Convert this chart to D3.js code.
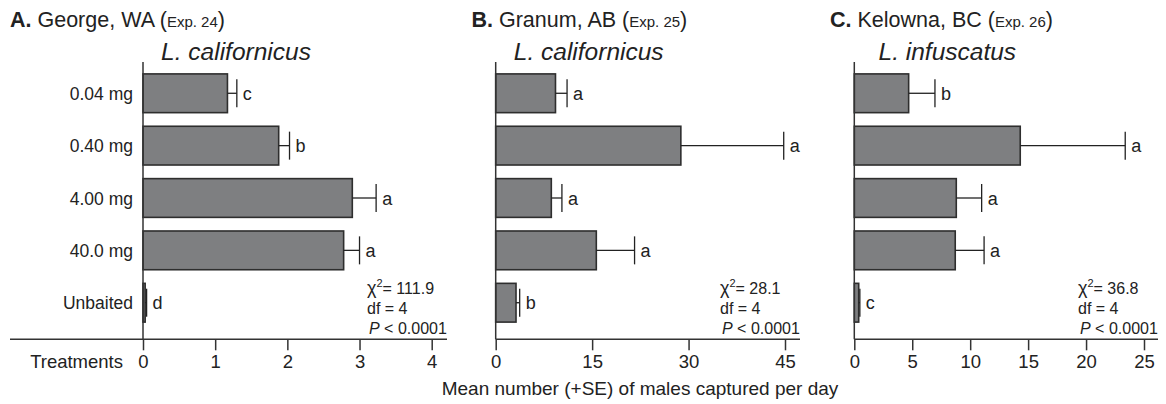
<!DOCTYPE html>
<html>
<head>
<meta charset="utf-8">
<script src="https://cdn.jsdelivr.net/npm/d3@7"></script>
<style>
  body { margin: 0; background: #fff; }
  svg text { font-family: "Liberation Sans", Arial, sans-serif; fill: #222; }
</style>
</head>
<body>
<div id="chart"></div>
<script>
// treatments (same for every panel)
var treatments = ["0.04 mg", "0.40 mg", "4.00 mg", "40.0 mg", "Unbaited"]

// A. George, WA
var meansA = [1.17, 1.88, 2.90, 2.78, 0.03]
var seA = [0.13, 0.15, 0.33, 0.22, 0.02]
var lettersA = ["c", "b", "a", "a", "d"]
var ticksA = [0, 1, 2, 3, 4]

// B. Granum, AB
var meansB = [9.3, 28.8, 8.65, 15.65, 3.16]
var seB = [1.8, 16.0, 1.65, 5.95, 0.57]
var lettersB = ["a", "a", "a", "a", "b"]
var ticksB = [0, 15, 30, 45]

// C. Kelowna, BC
var meansC = [4.69, 14.32, 8.8, 8.71, 0.38]
var seC = [2.27, 9.06, 2.19, 2.49, 0.1]
var lettersC = ["b", "a", "a", "a", "c"]
var ticksC = [0, 5, 10, 15, 20, 25]

var chiSq = ["111.9", "28.1", "36.8"]

var width = 1166
    height = 404

var svg = d3.select("#chart")
  .append("svg")
    .attr("width", width)
    .attr("height", height)

// panel setup: where the x axis sits and how far the baseline runs
var panels = [
  {letter: "A.", place: "George, WA ", exp: "Exp. 24", species: "L. californicus",
   means: meansA, se: seA, letters: lettersA, ticks: ticksA, chi: chiSq[0],
   x0: 143, x1: 431.7, lineStart: 10, lineEnd: 447, titleX: 10},
  {letter: "B.", place: "Granum, AB ", exp: "Exp. 25", species: "L. californicus",
   means: meansB, se: seB, letters: lettersB, ticks: ticksB, chi: chiSq[1],
   x0: 495.7, x1: 785, lineStart: 495.7, lineEnd: 800, titleX: 471.5},
  {letter: "C.", place: "Kelowna, BC ", exp: "Exp. 26", species: "L. infuscatus",
   means: meansC, se: seC, letters: lettersC, ticks: ticksC, chi: chiSq[2],
   x0: 854.3, x1: 1144, lineStart: 854.3, lineEnd: 1158, titleX: 830}
]

var axisY = 339.3

var y = d3.scaleBand()
  .domain(treatments)
  .range([67.1, 328.9])
  .paddingInner(0.26)
  .paddingOuter(0.13)

panels.forEach(function(p) {
  var x = d3.scaleLinear()
    .domain([0, p.ticks[p.ticks.length - 1]])
    .range([p.x0, p.x1])

  var g = svg.append("g")

  // panel title
  var t = g.append("text")
    .attr("x", p.titleX)
    .attr("y", 26.5)
    .style("font-size", "21.5px")
  t.append("tspan").style("font-weight", "bold").text(p.letter)
  t.append("tspan").text(" " + p.place + "(")
  t.append("tspan").style("font-size", "15px").text(p.exp)
  t.append("tspan").text(")")

  // species
  g.append("text")
    .attr("x", p.x0 + 93)
    .attr("y", 59.5)
    .attr("text-anchor", "middle")
    .style("font-size", "24.5px")
    .style("font-style", "italic")
    .text(p.species)

  var rows = treatments.map(function(d, i) {
    return {cat: d, mean: p.means[i], se: p.se[i], letter: p.letters[i]}
  })

  // bars
  g.selectAll("bars")
    .data(rows)
    .enter()
    .append("rect")
      .attr("x", x(0))
      .attr("y", function(d) { return y(d.cat) })
      .attr("width", function(d) { return x(d.mean) - x(0) })
      .attr("height", y.bandwidth())
      .attr("fill", "#7e7f81")
      .attr("stroke", "#2e2e2e")
      .attr("stroke-width", 1.6)

  // error bars (+SE only)
  var mid = function(d) { return y(d.cat) + y.bandwidth() / 2 }
  g.selectAll("errline")
    .data(rows)
    .enter()
    .append("line")
      .attr("x1", function(d) { return x(d.mean) })
      .attr("x2", function(d) { return x(d.mean + d.se) })
      .attr("y1", mid)
      .attr("y2", mid)
      .attr("stroke", "#222")
      .attr("stroke-width", 1.3)
  g.selectAll("errcap")
    .data(rows)
    .enter()
    .append("line")
      .attr("x1", function(d) { return x(d.mean + d.se) })
      .attr("x2", function(d) { return x(d.mean + d.se) })
      .attr("y1", function(d) { return mid(d) - 14 })
      .attr("y2", function(d) { return mid(d) + 14 })
      .attr("stroke", "#222")
      .attr("stroke-width", 1.3)

  // significance letters
  g.selectAll("letters")
    .data(rows)
    .enter()
    .append("text")
      .attr("x", function(d) { return x(d.mean + d.se) + 6 })
      .attr("y", function(d) { return mid(d) + 6.5 })
      .style("font-size", "18px")
      .text(function(d) { return d.letter })

  // y axis line
  g.append("line")
    .attr("x1", p.x0).attr("x2", p.x0)
    .attr("y1", 62).attr("y2", axisY)
    .attr("stroke", "#333").attr("stroke-width", 1.5)

  // x axis baseline
  g.append("line")
    .attr("x1", p.lineStart).attr("x2", p.lineEnd)
    .attr("y1", axisY).attr("y2", axisY)
    .attr("stroke", "#333").attr("stroke-width", 1.5)

  var ax = g.append("g")
    .attr("transform", "translate(0," + axisY + ")")
    .call(d3.axisBottom(x).tickValues(p.ticks).tickFormat(d3.format("d"))
      .tickSize(11).tickPadding(5).tickSizeOuter(0))
  ax.select(".domain").remove()
  ax.selectAll(".tick line").attr("stroke", "#333").attr("stroke-width", 1.5)
  ax.selectAll(".tick text").style("font-size", "18.5px").attr("fill", "#222")

  // stats
  var sx = p.lineEnd - 80
  var chi = g.append("text").attr("x", sx).attr("y", 294).style("font-size", "16px")
  chi.append("tspan").style("font-size", "18px").text("\u03c7")
  chi.append("tspan").attr("dy", -7).style("font-size", "11px").text("2")
  chi.append("tspan").attr("dy", 7).text("= " + p.chi)
  g.append("text").attr("x", sx).attr("y", 314).style("font-size", "16px").text("df = 4")
  var pt = g.append("text").attr("x", sx + 2).attr("y", 333.5).style("font-size", "16px")
  pt.append("tspan").style("font-style", "italic").text("P")
  pt.append("tspan").text(" < 0.0001")
})

// treatment labels on the left
svg.selectAll("catlabels")
  .data(treatments)
  .enter()
  .append("text")
    .attr("x", 133)
    .attr("y", function(d) { return y(d) + y.bandwidth() / 2 + 6.5 })
    .attr("text-anchor", "end")
    .style("font-size", "17.5px")
    .text(function(d) { return d })

svg.append("text")
  .attr("x", 123)
  .attr("y", 368)
  .attr("text-anchor", "end")
  .style("font-size", "18.5px")
  .text("Treatments")

svg.append("text")
  .attr("x", 640)
  .attr("y", 395)
  .attr("text-anchor", "middle")
  .style("font-size", "19px")
  .text("Mean number (+SE) of males captured per day")
</script>
</body>
</html>
